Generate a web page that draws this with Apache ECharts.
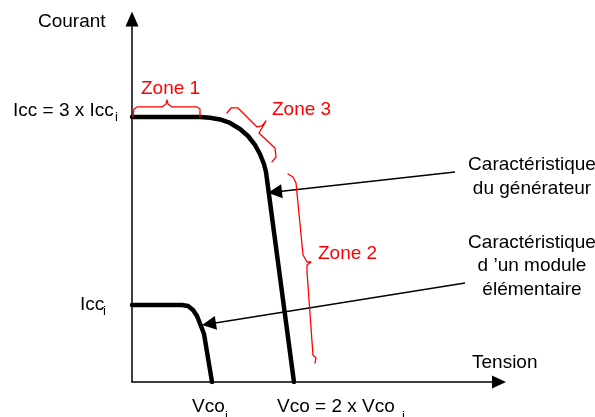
<!DOCTYPE html>
<html lang="fr">
<head>
  <meta charset="UTF-8">
  <title>Caractéristique courant-tension</title>
  <script src="https://cdn.jsdelivr.net/npm/echarts@6/dist/echarts.min.js"></script>
  <style>
    html, body, #main {
      margin: 0;
      padding: 0;
      width: 595px;
      height: 417px;
      background: #fff;
    }
  </style>
</head>
<body>
  <div id="main"></div>

  <script>
    // courbes (tension, courant) en unités du schéma : Vco_i ~ 1, Icc_i ~ 1
    const generatorCurve = [
      [0, 3.431], [0.834, 3.431], [0.956, 3.422], [1.079, 3.399], [1.202, 3.354],
      [1.324, 3.276], [1.422, 3.185], [1.508, 3.069], [1.569, 2.952], [1.618, 2.823],
      [1.643, 2.719], [1.986, 0]
    ];
    const moduleCurve = [
      [0, 0.997], [0.613, 0.997], [0.687, 0.984], [0.748, 0.932], [0.797, 0.855],
      [0.846, 0.725], [0.883, 0.622], [0.981, 0]
    ];

    // accolades rouges des zones
    const zone1Brace = [
      [0.012, 3.431], [0.025, 3.535], [0.061, 3.561], [0.368, 3.561], [0.417, 3.600],
      [0.429, 3.651], [0.441, 3.600], [0.490, 3.561], [0.797, 3.561], [0.834, 3.535], [0.834, 3.431]
    ];
    const zone3Brace = [
      [1.165, 3.483], [1.214, 3.548], [1.300, 3.548], [1.533, 3.302], [1.594, 3.315],
      [1.643, 3.380], [1.594, 3.289], [1.557, 3.224], [1.753, 3.030], [1.766, 2.913], [1.717, 2.849]
    ];
    const zone2Brace = [
      [1.913, 2.693], [1.974, 2.654], [2.011, 2.577], [2.097, 1.644], [2.146, 1.554],
      [2.195, 1.554], [2.146, 1.515], [2.146, 1.424], [2.219, 0.350], [2.256, 0.311], [2.244, 0.246]
    ];

    // flèches d'annotation : [départ, pointe]
    const generatorArrow = [[3.960, 2.719], [1.753, 2.460]];
    const moduleArrow = [[4.083, 1.282], [0.944, 0.751]];

    const axisNames = ['Courant', 'Tension'];
    const currentLabels = ['Icc = 3 x Icc', 'Icc'];
    const voltageLabels = ['Vco', 'Vco = 2 x Vco'];
    const zoneLabels = ['Zone 1', 'Zone 2', 'Zone 3'];
    const generatorText = 'Caractéristique\ndu générateur';
    const moduleText = 'Caractéristique\nd \u2019un module\nélémentaire';

    const FONT = '"Liberation Sans", Arial, sans-serif';
    const RED = '#ff0000';

    function txt(x, y, text, opts) {
      opts = opts || {};
      return {
        type: 'text',
        x: x,
        y: y,
        z: 10,
        style: {
          text: text,
          fill: opts.fill || '#000',
          fontSize: opts.size || 19,
          fontFamily: FONT,
          align: opts.align || 'left',
          verticalAlign: 'middle',
          lineHeight: opts.lineHeight || 24
        }
      };
    }

    function curve(data, color, width) {
      return {
        type: 'line',
        data: data,
        showSymbol: false,
        symbol: 'none',
        silent: true,
        animation: false,
        lineStyle: { color: color, width: width, cap: 'round', join: 'round' }
      };
    }

    function arrow(coords) {
      return {
        type: 'lines',
        coordinateSystem: 'cartesian2d',
        silent: true,
        animation: false,
        symbol: ['none', 'triangle'],
        symbolSize: [13, 14],
        lineStyle: { color: '#000', width: 1.3, opacity: 1, curveness: 0 },
        data: [{ coords: coords }]
      };
    }

    const chart = echarts.init(document.getElementById('main'));
    chart.setOption({
      backgroundColor: '#fff',
      animation: false,
      grid: { left: 132, right: 96, top: 19, bottom: 35, containLabel: false, outerBoundsMode: 'none' },
      xAxis: {
        type: 'value', min: 0, max: 4.5,
        axisLine: { show: true, onZero: false, symbol: ['none', 'triangle'], symbolSize: [13, 14],
          lineStyle: { color: '#000', width: 1.5 } },
        axisTick: { show: false }, axisLabel: { show: false }, splitLine: { show: false }
      },
      yAxis: {
        type: 'value', min: 0, max: 4.7,
        axisLine: { show: true, onZero: false, symbol: ['none', 'triangle'], symbolSize: [13, 15],
          lineStyle: { color: '#000', width: 1.5 } },
        axisTick: { show: false }, axisLabel: { show: false }, splitLine: { show: false }
      },
      series: [
        curve(generatorCurve, '#000', 4.5),
        curve(moduleCurve, '#000', 4.5),
        curve(zone1Brace, RED, 1.3),
        curve(zone3Brace, RED, 1.3),
        curve(zone2Brace, RED, 1.3),
        arrow(generatorArrow),
        arrow(moduleArrow)
      ],
      graphic: [
        txt(38, 22, axisNames[0]),
        txt(472, 363, axisNames[1]),
        txt(13, 111, currentLabels[0]),
        txt(115, 117, 'i', { size: 13 }),
        txt(80, 305, currentLabels[1]),
        txt(103, 311, 'i', { size: 13 }),
        txt(192, 407, voltageLabels[0]),
        txt(225, 416, 'i', { size: 13 }),
        txt(277, 407, voltageLabels[1]),
        txt(402, 416, 'i', { size: 13 }),
        txt(141, 89, zoneLabels[0], { fill: RED }),
        txt(318, 254, zoneLabels[1], { fill: RED }),
        txt(272, 110, zoneLabels[2], { fill: RED }),
        txt(532, 177, generatorText, { align: 'center', lineHeight: 23.5 }),
        txt(532, 266, moduleText, { align: 'center', lineHeight: 23.5 })
      ]
    });
  </script>
</body>
</html>
